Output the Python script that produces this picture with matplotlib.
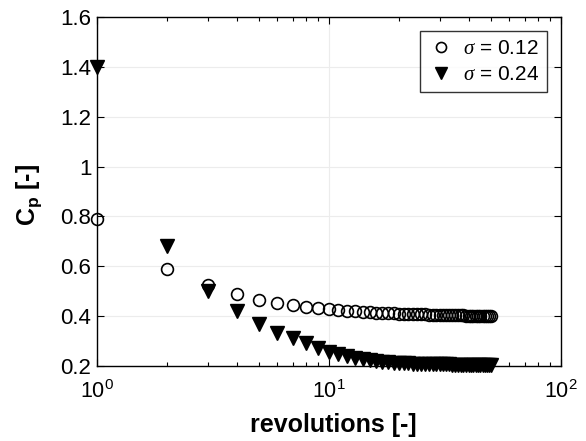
import matplotlib
matplotlib.use("Agg")
import matplotlib.pyplot as plt
import numpy as np

revolutions = list(range(1, 51))
cp_012 = [0.79, 0.59, 0.525, 0.487, 0.466, 0.452, 0.443, 0.436, 0.431, 0.427,
          0.424, 0.421, 0.419, 0.417, 0.416, 0.414, 0.413, 0.412, 0.411, 0.410,
          0.409, 0.409, 0.408, 0.408, 0.407, 0.407, 0.406, 0.406, 0.405, 0.405,
          0.405, 0.404, 0.404, 0.404, 0.403, 0.403, 0.403, 0.403, 0.402, 0.402,
          0.402, 0.402, 0.401, 0.401, 0.401, 0.401, 0.401, 0.400, 0.400, 0.400]
cp_024 = [1.40, 0.68, 0.50, 0.42, 0.368, 0.334, 0.311, 0.291, 0.272, 0.258,
          0.248, 0.240, 0.233, 0.228, 0.224, 0.221, 0.218, 0.216, 0.214, 0.213,
          0.212, 0.211, 0.210, 0.210, 0.209, 0.209, 0.208, 0.208, 0.208, 0.207,
          0.207, 0.207, 0.207, 0.206, 0.206, 0.206, 0.206, 0.206, 0.206, 0.205,
          0.205, 0.205, 0.205, 0.205, 0.205, 0.205, 0.205, 0.205, 0.205, 0.205]
labels = [r'$\sigma$ = 0.12', r'$\sigma$ = 0.24']
yticks = [0.2, 0.4, 0.6, 0.8, 1.0, 1.2, 1.4, 1.6]
ytick_labels = ['0.2', '0.4', '0.6', '0.8', '1', '1.2', '1.4', '1.6']

plt.rcParams['font.family'] = ['Liberation Sans', 'DejaVu Sans']
plt.rcParams['mathtext.fontset'] = 'custom'
plt.rcParams['mathtext.rm'] = 'Liberation Sans'
plt.rcParams['mathtext.it'] = 'Liberation Serif:italic'
plt.rcParams['mathtext.bf'] = 'Liberation Sans:bold'

fig = plt.figure(figsize=(5.86, 4.41), dpi=100)
ax = fig.add_axes([0.1655, 0.170, 0.7915, 0.7915])

ax.plot(revolutions, cp_012, linestyle='none', marker='o', markersize=8.5,
        markerfacecolor='none', markeredgecolor='black', markeredgewidth=1.2,
        label=labels[0], clip_on=False, zorder=3)
ax.plot(revolutions, cp_024, linestyle='none', marker='v', markersize=9.5,
        markerfacecolor='black', markeredgecolor='black',
        label=labels[1], clip_on=False, zorder=3)

ax.set_xscale('log')
ax.set_xlim(1, 100)
ax.set_ylim(0.2, 1.6)
ax.set_yticks(yticks)
ax.set_yticklabels(ytick_labels)
ax.tick_params(which='both', direction='in', top=True, right=True)
ax.tick_params(axis='y', labelsize=16, pad=4)
ax.tick_params(axis='x', labelsize=15.5, pad=10)
ax.tick_params(which='major', length=5, width=0.8)
ax.tick_params(which='minor', length=3, width=0.8)
ax.grid(True, which='major', color='#ececec', linewidth=0.8)
for s in ax.spines.values():
    s.set_linewidth(1.0)

ax.set_xlabel('revolutions [-]', fontsize=18, fontweight='bold')
ax.xaxis.set_label_coords(0.51, -0.135)
ax.set_ylabel(r'$\mathbf{C_p}$ [-]', fontsize=18, fontweight='bold')
ax.yaxis.set_label_coords(-0.115, 0.49)

leg = ax.legend(loc='upper right', fontsize=15, frameon=True, fancybox=False,
                edgecolor='black', borderpad=0.4, handletextpad=0.45,
                handlelength=1.2, borderaxespad=0.65, labelspacing=0.35,
                markerscale=0.85)
leg.get_frame().set_linewidth(1.0)

fig.savefig('out.png', dpi=100)
